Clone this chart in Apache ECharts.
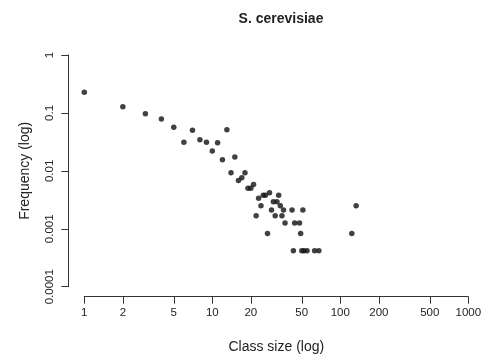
<!DOCTYPE html>
<html>
<head>
<meta charset="utf-8">
<script src="https://cdn.jsdelivr.net/npm/echarts@6/dist/echarts.min.js"></script>
<style>html,body{margin:0;padding:0;background:#fff;}#c{width:485px;height:360px;}</style>
</head>
<body>
<div id="c"></div>
<script>
var classSizes = [1,2,3,4,5,6,7,8,9,10,11,12,13,14,15,16,17,18,19,20,21,22,23,24,25,26,27,28,29,30,31,32,33,34,35,36,37,42,43,44,48,49,50,51,52,55,63,68,123,133];
var frequencies = [0.227,0.128,0.097,0.0785,0.0564,0.0312,0.050,0.0344,0.0312,0.0220,0.0306,0.0156,0.0513,0.0093,0.0173,0.0068,0.0076,0.0093,0.0050,0.0050,0.0058,0.00168,0.00335,0.0025,0.00378,0.00378,0.00083,0.0042,0.0021,0.00293,0.00168,0.00293,0.00378,0.0025,0.00168,0.0021,0.00126,0.0021,0.000417,0.00126,0.00126,0.00083,0.000417,0.0021,0.000417,0.000417,0.000417,0.000417,0.00083,0.0025];
var xTicks = [1,2,5,10,20,50,100,200,500,1000];
var yTicks = [0.0001,0.001,0.01,0.1,1];
var yTickLabels = ['0.0001','0.001','0.01','0.1','1'];

var points = classSizes.map(function(x,i){return [x, frequencies[i]];});
var chart = echarts.init(document.getElementById('c'), null, {renderer:'canvas'});
var axisColor = '#333';
var textColor = '#222';
var font = 'Liberation Sans, Arial, Helvetica, sans-serif';
chart.setOption({
  animation:false,
  backgroundColor:'#fff',
  title:{
    text:'S. cerevisiae', left:276, top:7, textAlign:'center',
    textStyle:{fontFamily:font, fontSize:14, fontWeight:'bold', color:textColor}
  },
  grid:{left:84.3, right:16.7, top:55, bottom:73.3},
  xAxis:{
    type:'log', logBase:10, min:1, max:1000, offset:10,
    name:'Class size (log)', nameLocation:'middle', nameGap:43,
    nameTextStyle:{fontFamily:font, fontSize:14, color:textColor},
    axisLine:{show:true, lineStyle:{color:axisColor, width:1}},
    axisTick:{show:true, inside:false, length:7, customValues:xTicks, lineStyle:{color:axisColor}},
    axisLabel:{show:true, margin:10, customValues:xTicks, fontFamily:font, fontSize:11.5, color:textColor,
      formatter:function(v){var i=xTicks.findIndex(function(t){return Math.abs(Math.log10(t)-Math.log10(v))<1e-6;}); return i>=0?String(xTicks[i]):'';}},
    splitLine:{show:false}, minorTick:{show:false}
  },
  yAxis:{
    type:'log', logBase:10, min:0.0001, max:1, offset:16,
    name:'Frequency (log)', nameLocation:'middle', nameGap:36, nameRotate:90,
    nameTextStyle:{fontFamily:font, fontSize:14, color:textColor},
    axisLine:{show:true, lineStyle:{color:axisColor, width:1}},
    axisTick:{show:true, inside:false, length:7, customValues:yTicks, lineStyle:{color:axisColor}},
    axisLabel:{show:true, rotate:90, margin:12, customValues:yTicks, fontFamily:font, fontSize:11.5, color:textColor,
      formatter:function(v){var i=yTicks.findIndex(function(t){return Math.abs(Math.log10(t)-Math.log10(v))<1e-6;}); return i>=0?yTickLabels[i]:'';}},
    splitLine:{show:false}, minorTick:{show:false}
  },
  series:[{
    type:'scatter', data:points, symbol:'circle', symbolSize:5.5,
    itemStyle:{color:'#111'}, silent:true
  }]
});
</script>
</body>
</html>
